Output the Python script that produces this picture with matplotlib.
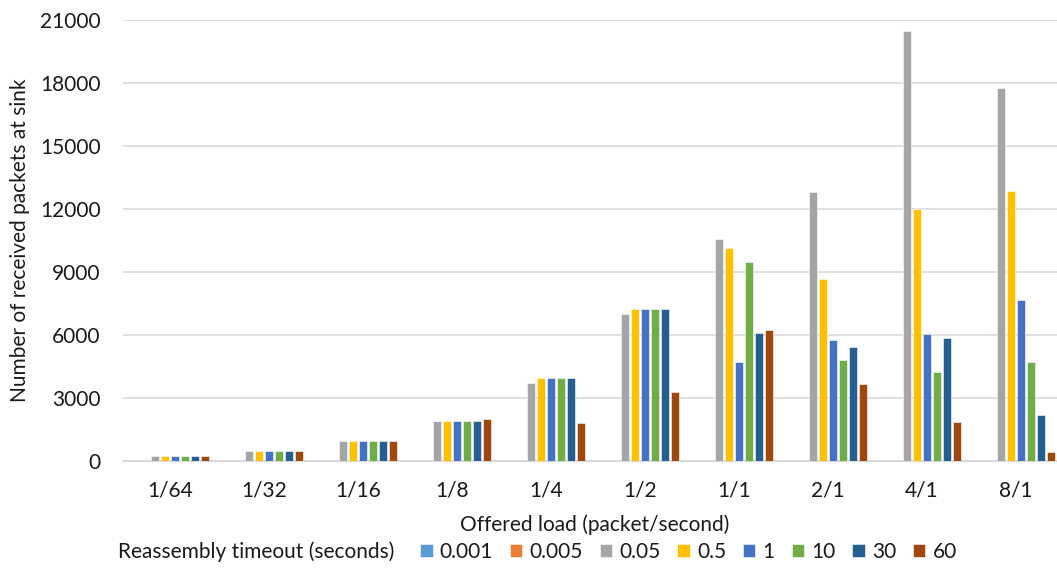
import numpy as np
import matplotlib
matplotlib.use('Agg')
import matplotlib.pyplot as plt

plt.rcParams['font.family'] = ['Lato', 'DejaVu Sans']

categories = ['1/64', '1/32', '1/16', '1/8', '1/4', '1/2', '1/1', '2/1', '4/1', '8/1']
series_names = ['0.001', '0.005', '0.05', '0.5', '1', '10', '30', '60']

t_0001 = [0, 0, 0, 0, 0, 0, 0, 0, 0, 0]
t_0005 = [0, 0, 0, 0, 0, 0, 0, 0, 0, 0]
t_005 = [230, 480, 950, 1920, 3730, 6980, 10550, 12830, 20460, 17740]
t_05 = [230, 460, 950, 1920, 3965, 7250, 10120, 8680, 12010, 12835]
t_1 = [230, 460, 950, 1920, 3965, 7215, 4710, 5760, 6025, 7660]
t_10 = [230, 460, 950, 1920, 3965, 7215, 9500, 4820, 4250, 4710]
t_30 = [230, 460, 950, 1920, 3965, 7230, 6090, 5425, 5835, 2200]
t_60 = [230, 460, 950, 2000, 1810, 3265, 6215, 3665, 1855, 410]

series = [t_0001, t_0005, t_005, t_05, t_1, t_10, t_30, t_60]
colors = ['#5B9BD5', '#ED7D31', '#A5A5A5', '#FFC000',
          '#4472C4', '#70AD47', '#255E91', '#9E480E']

fs = 15

fig = plt.figure(figsize=(10.57, 5.68), dpi=100)
ax = fig.add_axes([123 / 1057, 107 / 568, 940 / 1057, 441 / 568])

x = np.arange(len(categories))
pitch = 10 / 94
width = 8.4 / 94
for i, (name, vals, c) in enumerate(zip(series_names, series, colors)):
    offset = (i - (len(series) - 1) / 2) * pitch
    ax.bar(x + offset, vals, width, color=c, label=name, zorder=3,
           edgecolor='white', linewidth=0.4)

ax.set_xlim(-0.5, len(categories) - 0.5)
ax.set_ylim(0, 21000)
ax.set_yticks(np.arange(0, 21001, 3000))
ax.set_xticks(x)
ax.set_xticklabels(categories)

ax.grid(axis='y', color='#D9D9D9', linewidth=1.2, zorder=0)
for s in ['top', 'right', 'left']:
    ax.spines[s].set_visible(False)
ax.spines['bottom'].set_color('#D9D9D9')
ax.spines['bottom'].set_linewidth(1.5)
ax.tick_params(axis='both', length=0, labelsize=fs, colors='#1a1a1a')
ax.tick_params(axis='y', pad=16)
ax.tick_params(axis='x', pad=14)

ax.set_ylabel('Number of received packets at sink', fontsize=fs,
              color='#1a1a1a')
ax.yaxis.set_label_coords(-93 / 940, 0.5)
fig.text(595 / 1057, 1 - 525 / 568, 'Offered load (packet/second)',
         ha='center', va='center', fontsize=fs, color='#1a1a1a')

fig.text(256 / 1057, 1 - 552 / 568, 'Reassembly timeout (seconds)',
         ha='center', va='center', fontsize=fs, color='#1a1a1a')
fig.legend(loc='center left', bbox_to_anchor=(420 / 1057, 1 - 552 / 568),
           ncol=8, frameon=False, fontsize=fs, handlelength=0.6,
           handleheight=0.6, handletextpad=0.35, columnspacing=0.8,
           borderpad=0, borderaxespad=0, labelcolor='#1a1a1a')

fig.savefig('out.png', dpi=100)
